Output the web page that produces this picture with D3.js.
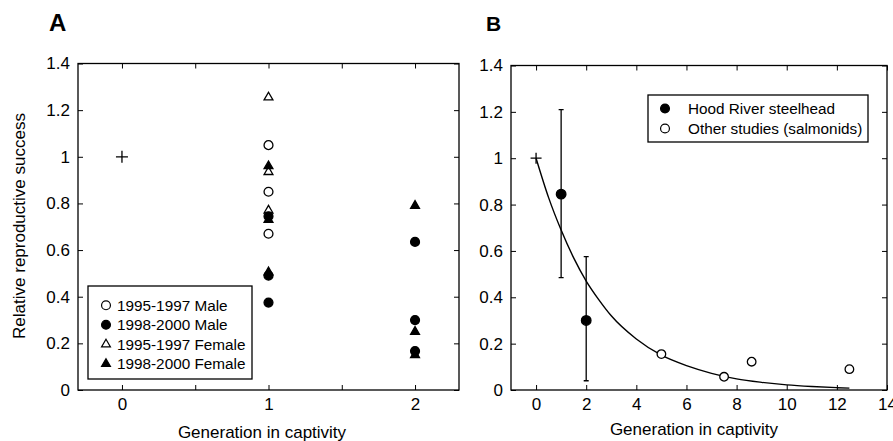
<!DOCTYPE html>
<html>
<head>
<meta charset="utf-8">
<script src="https://cdn.jsdelivr.net/npm/d3@7"></script>
<style>
  body { margin: 0; background: #fff; }
  text { font-family: "Liberation Sans", Arial, sans-serif; }
</style>
</head>
<body>
<svg id="fig" width="893" height="441"></svg>
<script>
// ---- data ----
// panel A: [generation, relative reproductive success]
const baselineA = [[0, 1.0]]
const male9597 = [[1, 1.05], [1, 0.85], [1, 0.67]]
const male9800 = [[1, 0.745], [1, 0.49], [1, 0.375], [2, 0.635], [2, 0.30], [2, 0.167]]
const female9597 = [[1, 1.255], [1, 0.935], [1, 0.77]]
const female9800 = [[1, 0.96], [1, 0.73], [1, 0.505], [2, 0.79], [2, 0.25], [2, 0.15]]

// panel B
const hoodGen = [1, 2]
const hoodRS = [0.845, 0.30]
const hoodLo = [0.485, 0.04]
const hoodHi = [1.21, 0.575]
const otherGen = [5, 7.5, 8.6, 12.5]
const otherRS = [0.155, 0.057, 0.122, 0.09]
const fitGen = [0, 0.5, 1, 1.5, 2, 2.5, 3, 4, 5, 6, 7, 8, 9, 10, 11, 12, 12.5]
const fitRS = [1, 0.83, 0.69, 0.57, 0.47, 0.39, 0.32, 0.22, 0.15, 0.105, 0.072, 0.048, 0.033, 0.022, 0.015, 0.01, 0.008]

// ticks and labels
const yTicks = [0, 0.2, 0.4, 0.6, 0.8, 1, 1.2, 1.4]
const xTicksA = [0, 0.5, 1, 1.5, 2]
const xTicksB = [0, 2, 4, 6, 8, 10, 12, 14]
const legendA = ["1995-1997 Male", "1998-2000 Male", "1995-1997 Female", "1998-2000 Female"]
const legendB = ["Hood River steelhead", "Other studies (salmonids)"]

const svg = d3.select("#fig")

// scales
const xA = d3.scaleLinear().domain([-0.3, 2.3]).range([78, 459])
const yA = d3.scaleLinear().domain([0, 1.4]).range([390, 63.5])
const xB = d3.scaleLinear().domain([-1, 14]).range([511, 887])
const yB = d3.scaleLinear().domain([0, 1.4]).range([390, 65.5])

const yFmt = d => String(+d.toFixed(1))

function frame(x, y, xTicks, xFmt) {
  const g = svg.append("g")
  const [x0, x1] = x.range()
  const [y0, y1] = y.range()
  const style = sel => {
    sel.select(".domain").remove()
    sel.attr("font-size", 17).attr("font-family", "Liberation Sans, Arial, sans-serif")
    sel.selectAll("text").attr("fill", "#000")
  }
  g.append("g").attr("transform", `translate(0,${y0})`)
    .call(d3.axisBottom(x).tickValues(xTicks).tickSize(-5).tickPadding(7.5).tickFormat(xFmt)).call(style)
  g.append("g").attr("transform", `translate(0,${y1})`)
    .call(d3.axisTop(x).tickValues(xTicks).tickSize(-5).tickFormat("")).call(style)
  g.append("g").attr("transform", `translate(${x0},0)`)
    .call(d3.axisLeft(y).tickValues(yTicks).tickSize(-5).tickPadding(8).tickFormat(yFmt)).call(style)
  g.append("g").attr("transform", `translate(${x1},0)`)
    .call(d3.axisRight(y).tickValues(yTicks).tickSize(-5).tickFormat("")).call(style)
  g.append("rect")
    .attr("x", x0).attr("y", y1).attr("width", x1 - x0).attr("height", y0 - y1)
    .attr("fill", "none").attr("stroke", "#000").attr("stroke-width", 1.3)
  return g
}

const circle = d3.symbol().type(d3.symbolCircle).size(62)
const tri = d3.symbol().type(d3.symbolTriangle).size(34)

function marks(g, data, x, y, sym, filled) {
  g.selectAll(null).data(data).enter().append("path")
    .attr("d", sym)
    .attr("transform", d => `translate(${x(d[0])},${y(d[1])})`)
    .attr("fill", filled ? "#000" : "#fff")
    .attr("stroke", "#000")
    .attr("stroke-width", 1.3)
}

function cross(g, data, x, y, s) {
  data.forEach(d => {
    const cx = x(d[0]), cy = y(d[1])
    g.append("path")
      .attr("d", `M${cx - s},${cy}H${cx + s}M${cx},${cy - s}V${cy + s}`)
      .attr("stroke", "#000").attr("stroke-width", 1.3)
  })
}

// ---------- panel A ----------
const gA = frame(xA, yA, xTicksA, d => Number.isInteger(d) ? d : "")
cross(gA, baselineA, xA, yA, 6)
marks(gA, female9597, xA, yA, tri, false)
marks(gA, male9597, xA, yA, circle, false)
marks(gA, female9800, xA, yA, tri, true)
marks(gA, male9800, xA, yA, circle, true)

// legend A
const lgA = svg.append("g")
lgA.append("rect").attr("x", 88).attr("y", 286).attr("width", 164).attr("height", 93)
  .attr("fill", "#fff").attr("stroke", "#000").attr("stroke-width", 1.3)
const legSyms = [[circle, false], [circle, true], [tri, false], [tri, true]]
legendA.forEach((t, i) => {
  const cy = 305.3 + i * 19.5
  lgA.append("path").attr("d", legSyms[i][0])
    .attr("transform", `translate(106,${cy})`)
    .attr("fill", legSyms[i][1] ? "#000" : "#fff").attr("stroke", "#000").attr("stroke-width", 1.2)
  lgA.append("text").attr("x", 117).attr("y", cy + 5.5).attr("font-size", 15.3).text(t)
})

// titles
svg.append("text").attr("x", 49).attr("y", 30.5).attr("font-size", 24).attr("font-weight", "bold").text("A")
svg.append("text").attr("x", 486).attr("y", 30.5).attr("font-size", 21).attr("font-weight", "bold").text("B")

svg.append("text").attr("x", 262).attr("y", 438).attr("text-anchor", "middle").attr("font-size", 17)
  .text("Generation in captivity")
svg.append("text").attr("transform", "translate(25,226) rotate(-90)").attr("text-anchor", "middle")
  .attr("font-size", 17).text("Relative reproductive success")

// ---------- panel B ----------
const gB = frame(xB, yB, xTicksB, d => d)

const fit = fitGen.map((g, i) => [g, fitRS[i]])
gB.append("path").datum(fit)
  .attr("d", d3.line().x(d => xB(d[0])).y(d => yB(d[1])).curve(d3.curveMonotoneX))
  .attr("fill", "none").attr("stroke", "#000").attr("stroke-width", 1.4)

cross(gB, [[0, 1]], xB, yB, 5.5)

// error bars
hoodGen.forEach((g, i) => {
  const cx = xB(g)
  gB.append("path")
    .attr("d", `M${cx},${yB(hoodLo[i])}V${yB(hoodHi[i])}M${cx - 2.5},${yB(hoodLo[i])}H${cx + 2.5}M${cx - 2.5},${yB(hoodHi[i])}H${cx + 2.5}`)
    .attr("stroke", "#000").attr("stroke-width", 1.3).attr("fill", "none")
})

marks(gB, otherGen.map((g, i) => [g, otherRS[i]]), xB, yB, d3.symbol().type(d3.symbolCircle).size(58), false)
marks(gB, hoodGen.map((g, i) => [g, hoodRS[i]]), xB, yB, d3.symbol().type(d3.symbolCircle).size(72), true)

// legend B
const lgB = svg.append("g")
lgB.append("rect").attr("x", 648).attr("y", 95).attr("width", 220).attr("height", 47)
  .attr("fill", "#fff").attr("stroke", "#000").attr("stroke-width", 1.3)
legendB.forEach((t, i) => {
  const cy = 108.5 + i * 20
  lgB.append("path").attr("d", d3.symbol().type(d3.symbolCircle).size(62))
    .attr("transform", `translate(665,${cy})`)
    .attr("fill", i === 0 ? "#000" : "#fff").attr("stroke", "#000").attr("stroke-width", 1.2)
  lgB.append("text").attr("x", 688).attr("y", cy + 5.5).attr("font-size", 15.3).text(t)
})

svg.append("text").attr("x", 694).attr("y", 435).attr("text-anchor", "middle").attr("font-size", 17)
  .text("Generation in captivity")
</script>
</body>
</html>
